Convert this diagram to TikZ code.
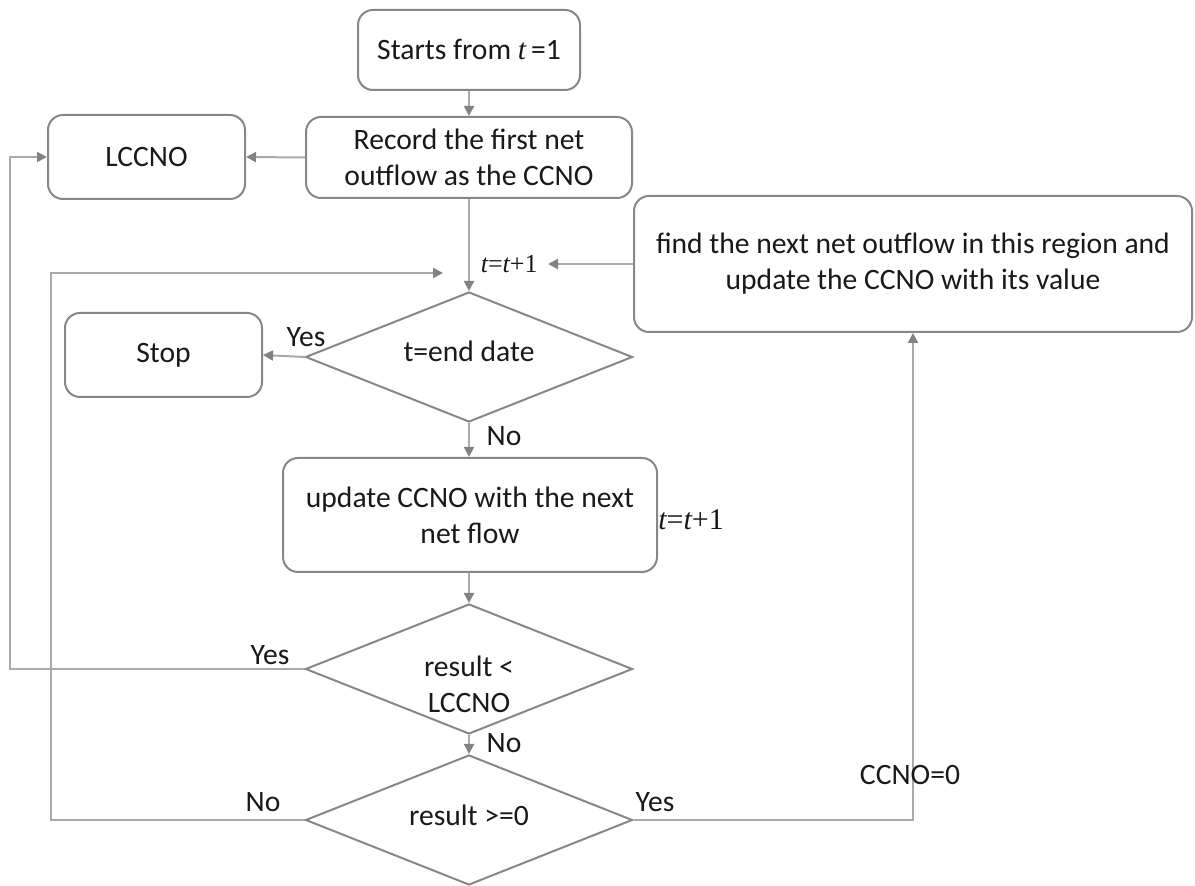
\documentclass[tikz,border=0pt]{standalone}
\usepackage{fontspec}
\setmainfont{Carlito}
\newfontfamily\tms{Liberation Serif}
\usetikzlibrary{shapes.geometric,arrows.meta,calc}

\definecolor{edge}{RGB}{135,135,135}
\definecolor{wirec}{RGB}{170,170,170}
\definecolor{tipc}{RGB}{130,130,130}
\definecolor{ink}{RGB}{25,25,25}

\newcommand{\tvar}{{\tms\itshape t}}

\begin{document}
\begin{tikzpicture}[x=0.5pt,y=-0.5pt,
  every node/.style={font=\fontsize{14.8pt}{18pt}\selectfont, text=ink},
  box/.style={draw=edge, line width=1pt, rounded corners=7.5pt, align=center, inner sep=0pt},
  dia/.style={draw=edge, line width=1pt, diamond, inner sep=0pt,
              minimum width=163.5pt, minimum height=65pt},
  wire/.style={draw=wirec, line width=1pt},
  arr/.style={wire, -{Triangle[length=5pt,width=5pt,color=tipc]}},
  lab/.style={inner sep=0pt},
  incr/.style={inner sep=0pt, font=\tms\fontsize{13pt}{15pt}\selectfont},
]
\useasboundingbox (0,0) rectangle (1195,886);

% helper coordinates for the main spine and the two return loops
\coordinate (spine) at (469,0);
\coordinate (outerx) at (10,0);
\coordinate (innerx) at (51,0);
\coordinate (join) at (443,273);

% process boxes
\node[box, minimum width=111pt, minimum height=40pt] (start) at (469,50)
  {Starts from \tvar\,=1};
\node[box, minimum width=163pt, minimum height=40.5pt] (rec) at (469,157.5)
  {Record the first net\\outflow as the CCNO};
\node[box, minimum width=98.5pt, minimum height=42pt] (lccno) at (146.5,157) {LCCNO};
\node[box, minimum width=279pt, minimum height=68pt] (rbox) at (913,264)
  {find the next net outflow in this region and\\update the CCNO with its value};
\node[box, minimum width=98.5pt, minimum height=42pt] (stop) at (163.5,355) {Stop};
\node[box, minimum width=187pt, minimum height=57pt] (upd) at (470,515)
  {update CCNO with the next\\net flow};

% decisions
\node[dia] (d1) at (469,357) {};
\node[lab] (d1t) at (469,351) {t=end date};
\node[dia] (d2) at (469,669) {};
\node[lab, align=center] (d2t) at (469,684) {result <\\LCCNO};
\node[dia] (d3) at (469,820) {};
\node[lab] (d3t) at (469,815) {result >=0};

% counter increments
\node[incr, anchor=east] (tt) at (538,264) {\tvar=\tvar+1};
\node[incr, font=\tms\fontsize{15pt}{17pt}\selectfont] (tt2) at (691,520) {\tvar=\tvar+1};

% main flow
\draw[arr] (start.south -| spine) -- (rec.north -| spine);
\draw[arr] (rec.west) -- (lccno.east);
\draw[arr] (rec.south -| spine) -- (d1.north);
\draw[arr] (rbox.west) -- ([xshift=5pt]tt.east);
\draw[arr] (d1.west) -- (stop.east);
\draw[arr] (d1.south) -- (upd.north -| spine);
\draw[arr] (upd.south -| spine) -- (d2.north);
\draw[arr] (d2.south) -- (d3.north);

% return loops
\draw[arr] (d2.west) -- (d2.west -| outerx) |- (lccno.west);
\draw[arr] (d3.west) -- (d3.west -| innerx) |- (join);
\draw[arr] (d3.east) -- (d3.east -| rbox.south) -- (rbox.south);

% branch labels
\node[lab] (y1) at (306,337) {Yes};
\node[lab] (n1) at (504,436) {No};
\node[lab] (y2) at (270,655) {Yes};
\node[lab] (n2) at (504,743) {No};
\node[lab] (n3) at (263,802) {No};
\node[lab] (y3) at (655,802) {Yes};
\node[lab] (c0) at (910,775) {CCNO=0};
\end{tikzpicture}
\end{document}
